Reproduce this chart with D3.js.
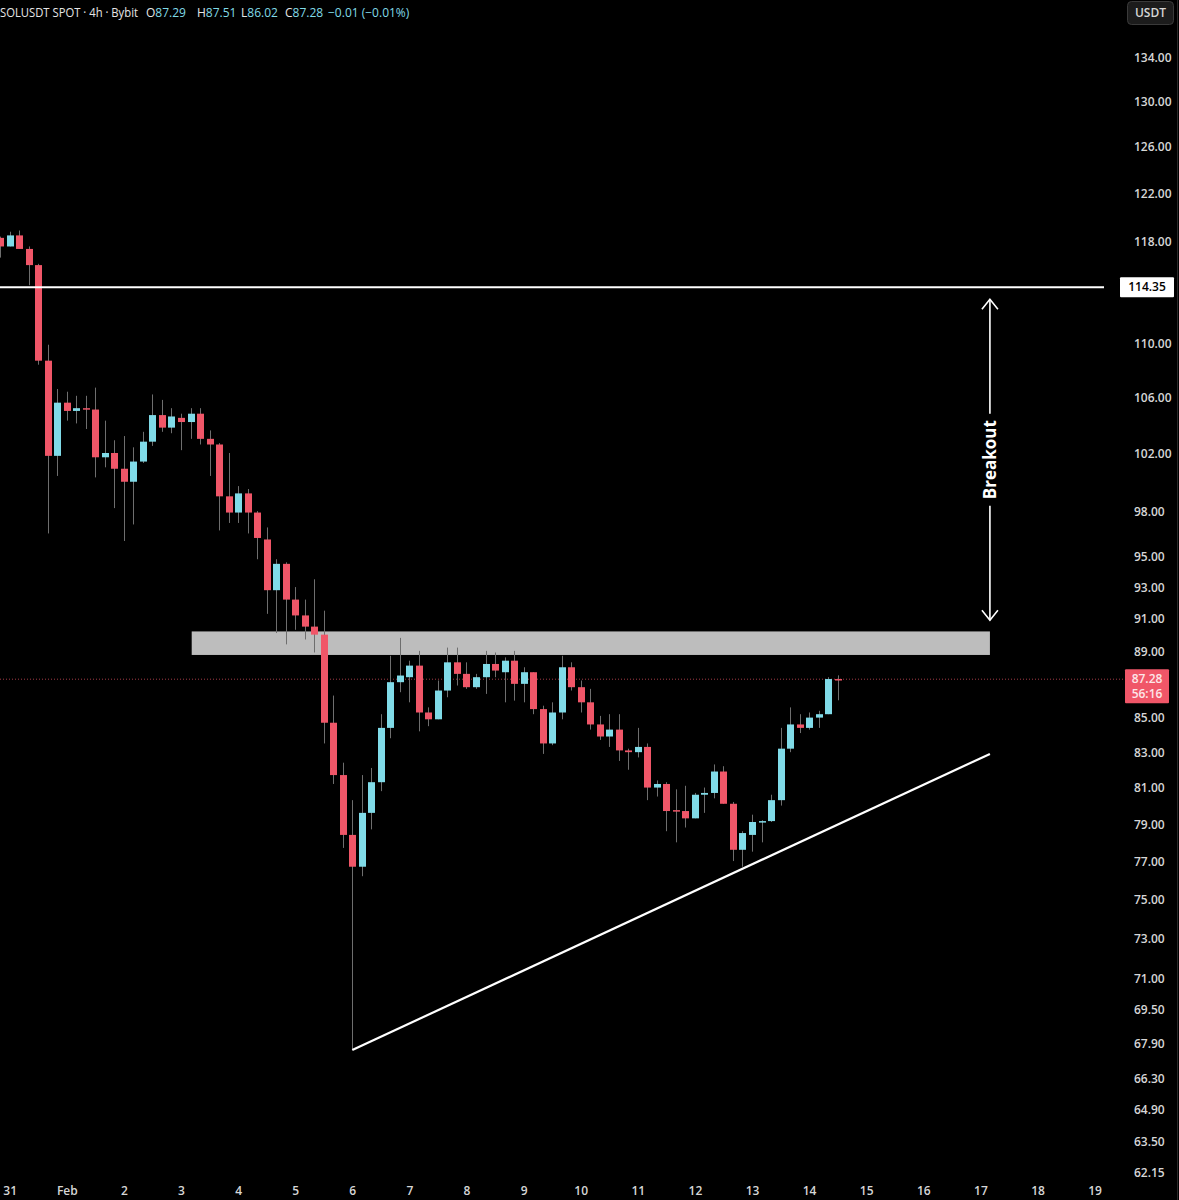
<!DOCTYPE html>
<html>
<head>
<meta charset="utf-8">
<script src="https://cdn.jsdelivr.net/npm/d3@7"></script>
<style>
  html, body { margin: 0; padding: 0; background: #000; }
  svg { display: block; }
  text { font-family: "Open Sans", "Noto Sans", sans-serif; }
</style>
</head>
<body>
<svg id="chart" width="1179" height="1200"></svg>
<script>
// ---------- DATA ----------
const firstCandle = "2026-01-30T20:00:00Z";   // 4h candles
const candleHours = 4;
const opens = [118.3,117.6,118.5,117.4,116.1,108.7,101.8,105.6,105.0,105.2,105.1,101.7,102.0,100.9,100.0,101.4,102.8,104.7,103.8,104.5,104.2,104.8,103.0,102.6,99.0,97.9,99.2,97.9,96.1,92.8,94.5,92.2,91.2,90.5,90.0,84.7,81.7,78.4,76.7,79.6,81.3,84.4,87.1,87.4,88.1,85.3,84.9,86.6,88.3,87.6,86.8,87.4,88.2,87.7,88.4,87.0,87.7,85.5,83.5,85.3,88.0,86.8,85.9,84.6,83.9,84.3,83.1,83.0,83.3,81.0,81.2,79.75,79.7,79.3,80.6,80.7,81.9,80.1,77.6,78.4,79.1,79.15,80.3,83.2,84.6,84.4,85.0,85.2,87.29];
const highs = [118.4,118.8,118.9,117.6,116.2,109.9,106.6,106.4,106.1,106.1,106.7,104.3,102.9,103.2,102.4,103.5,106.2,105.8,105.2,104.8,105.2,105.2,103.6,102.7,102.0,99.7,99.5,98.0,96.9,94.8,94.6,93.0,92.2,93.5,91.5,86.3,82.4,80.3,81.7,82.1,85.2,88.7,89.8,88.4,89.0,85.6,87.2,89.2,89.2,88.3,87.6,89.0,88.9,88.6,89.0,88.0,87.7,85.7,85.9,88.7,88.3,87.2,86.7,85.1,85.2,85.2,83.2,84.4,83.5,81.4,81.3,80.9,81.1,80.7,81.0,82.3,82.2,80.2,78.6,79.5,79.2,80.6,84.4,85.6,85.2,85.3,85.4,87.4,87.51];
const lows = [116.7,117.6,117.4,114.5,108.4,96.5,100.4,104.3,104.1,103.7,100.3,101.0,98.2,96.0,97.1,101.3,102.5,103.5,103.4,102.2,103.0,102.6,100.4,96.7,97.2,97.2,96.5,94.8,91.3,90.1,89.4,90.3,89.7,88.9,83.5,81.2,77.7,67.6,76.2,78.7,80.8,83.8,86.5,85.9,84.2,84.5,84.9,86.2,86.9,86.7,86.7,86.4,87.4,85.9,86.0,85.9,85.2,82.9,83.4,84.9,86.6,85.3,84.3,83.7,83.3,82.5,82.0,82.7,80.3,80.5,78.6,78.0,78.8,79.3,79.6,80.4,80.1,77.0,76.7,77.5,78.0,79.1,80.0,83.0,84.1,84.3,84.4,85.2,86.02];
const closes = [117.6,118.5,117.4,116.1,108.7,101.8,105.6,105.0,105.2,105.1,101.7,102.0,100.9,100.0,101.4,102.8,104.7,103.8,104.6,104.2,104.8,103.0,102.6,99.0,97.9,99.2,97.9,96.2,92.8,94.5,92.2,91.2,90.5,90.0,84.7,81.7,78.4,76.7,79.6,81.3,84.4,87.1,87.5,88.1,85.3,84.9,86.6,88.3,87.6,86.8,87.4,88.2,87.8,88.4,87.0,87.7,85.5,83.5,85.3,88.0,86.8,85.9,84.6,83.9,84.3,83.1,83.0,83.3,81.0,81.2,79.7,79.7,79.3,80.6,80.7,81.9,80.1,77.6,78.5,79.1,79.15,80.3,83.2,84.6,84.4,85.0,85.2,87.29,87.28];

const priceTicks = [134, 130, 126, 122, 118, 110, 106, 102, 98, 95, 93, 91, 89, 85, 83, 81, 79, 77, 75, 73, 71, 69.5, 67.9, 66.3, 64.9, 63.5, 62.15];
const dayTicks = ["2026-01-31","2026-02-01","2026-02-02","2026-02-03","2026-02-04","2026-02-05","2026-02-06","2026-02-07","2026-02-08","2026-02-09","2026-02-10","2026-02-11","2026-02-12","2026-02-13","2026-02-14","2026-02-15","2026-02-16","2026-02-17","2026-02-18","2026-02-19"];

const resistanceLevel = 114.35;
const lastPrice = 87.28;
const countdown = "56:16";
const zoneTop = 90.2, zoneBottom = 88.75;
const zoneStart = "2026-02-03T04:30:00Z", zoneEnd = "2026-02-17T04:00:00Z";
const trendStart = { t: "2026-02-06T00:00:00Z", p: 67.6 };
const trendEnd = { t: "2026-02-17T04:00:00Z", p: 82.9 };
const arrowTime = "2026-02-17T04:00:00Z";
const arrowTop = 113.4, arrowBottom = 90.9;
const headerTitle = "SOLUSDT SPOT · 4h · Bybit";
const headerOHLC = [["O", "87.29"], ["H", "87.51"], ["L", "86.02"], ["C", "87.28"]];
const headerChange = "−0.01 (−0.01%)";

// ---------- SETUP ----------
const W = 1179, H = 1200;
const UP = "#80dbe8", DOWN = "#f05668", WICK = "#6e6e6e", AXIS_TEXT = "#d6d6d6";
const svg = d3.select("#chart");
svg.append("rect").attr("width", W).attr("height", H).attr("fill", "#000");

const x = d3.scaleUtc()
  .domain([new Date("2026-01-31T00:00:00Z"), new Date("2026-02-19T00:00:00Z")])
  .range([9.7, 1094.6]);
const y = d3.scaleLog().domain([62.15, 134]).range([1172, 57]);

const t0 = new Date(firstCandle).getTime();
const candles = opens.map((o, i) => ({
  t: new Date(t0 + i * candleHours * 3600e3),
  o, h: highs[i], l: lows[i], c: closes[i]
}));

// ---------- Zone ----------
svg.append("rect")
  .attr("x", x(new Date(zoneStart)))
  .attr("y", y(zoneTop))
  .attr("width", x(new Date(zoneEnd)) - x(new Date(zoneStart)))
  .attr("height", y(zoneBottom) - y(zoneTop))
  .attr("fill", "#bdbdbd");

// ---------- Current price dotted line ----------
svg.append("line")
  .attr("x1", 0).attr("x2", 1125)
  .attr("y1", y(lastPrice)).attr("y2", y(lastPrice))
  .attr("stroke", "#a33a46").attr("stroke-width", 1)
  .attr("stroke-dasharray", "1,2");

// ---------- Candles ----------
const bw = 7;
const g = svg.append("g");
g.selectAll("line.wick").data(candles).join("line")
  .attr("class", "wick")
  .attr("x1", d => Math.round(x(d.t)) + 0.5).attr("x2", d => Math.round(x(d.t)) + 0.5)
  .attr("y1", d => y(d.h)).attr("y2", d => y(d.l))
  .attr("stroke", WICK).attr("stroke-width", 1);
g.selectAll("rect.body").data(candles).join("rect")
  .attr("class", "body")
  .attr("x", d => Math.round(x(d.t)) + 0.5 - bw / 2)
  .attr("y", d => y(Math.max(d.o, d.c)))
  .attr("width", bw)
  .attr("height", d => Math.max(1.5, Math.abs(y(d.o) - y(d.c))))
  .attr("fill", d => d.c >= d.o ? UP : DOWN);

// ---------- Resistance line ----------
svg.append("line")
  .attr("x1", 0).attr("x2", 1104)
  .attr("y1", y(resistanceLevel)).attr("y2", y(resistanceLevel))
  .attr("stroke", "#fff").attr("stroke-width", 2);

// ---------- Trend line ----------
svg.append("line")
  .attr("x1", x(new Date(trendStart.t))).attr("y1", y(trendStart.p))
  .attr("x2", x(new Date(trendEnd.t))).attr("y2", y(trendEnd.p))
  .attr("stroke", "#fff").attr("stroke-width", 2.2);

// ---------- Breakout arrow ----------
const ax = x(new Date(arrowTime));
const ay1 = y(arrowTop), ay2 = y(arrowBottom);
const amid = (ay1 + ay2) / 2;
const arrow = svg.append("g").attr("stroke", "#fff").attr("stroke-width", 1.6).attr("fill", "none");
arrow.append("line").attr("x1", ax).attr("x2", ax).attr("y1", ay1).attr("y2", amid - 46);
arrow.append("line").attr("x1", ax).attr("x2", ax).attr("y1", amid + 46).attr("y2", ay2);
arrow.append("polyline").attr("points", `${ax - 8},${ay1 + 10} ${ax},${ay1} ${ax + 8},${ay1 + 10}`);
arrow.append("polyline").attr("points", `${ax - 8},${ay2 - 10} ${ax},${ay2} ${ax + 8},${ay2 - 10}`);
svg.append("text")
  .attr("transform", `translate(${ax + 6},${amid}) rotate(-90)`)
  .attr("text-anchor", "middle")
  .attr("fill", "#fff").attr("font-size", 17).attr("font-weight", 700)
  .text("Breakout");

// ---------- Y axis ----------
const yAxis = d3.axisRight(y).tickValues(priceTicks).tickFormat(d => d.toFixed(2)).tickSize(0).tickPadding(0);
const yg = svg.append("g").attr("transform", "translate(1134,0)").call(yAxis);
yg.select(".domain").remove();
yg.selectAll("text").attr("fill", AXIS_TEXT).attr("font-size", 12).attr("font-weight", 600)
  .attr("font-family", "'Open Sans', sans-serif").attr("dy", "0.35em");

// right border
svg.append("line").attr("x1", 1177.5).attr("x2", 1177.5).attr("y1", 0).attr("y2", H)
  .attr("stroke", "#2a2a2a").attr("stroke-width", 1);

// resistance label
svg.append("rect").attr("x", 1120).attr("y", y(resistanceLevel) - 10).attr("width", 54).attr("height", 20)
  .attr("fill", "#fff").attr("rx", 1);
svg.append("text").attr("x", 1147).attr("y", y(resistanceLevel)).attr("dy", "0.35em")
  .attr("text-anchor", "middle").attr("fill", "#000").attr("font-size", 12).attr("font-weight", 600)
  .text(resistanceLevel.toFixed(2));

// last price label
const ly = y(lastPrice);
svg.append("rect").attr("x", 1125).attr("y", ly - 10).attr("width", 44).attr("height", 34)
  .attr("fill", DOWN).attr("rx", 1);
svg.append("text").attr("x", 1147).attr("y", ly).attr("dy", "0.35em")
  .attr("text-anchor", "middle").attr("fill", "#fde6e8").attr("font-size", 12).attr("font-weight", 600)
  .text(lastPrice.toFixed(2));
svg.append("text").attr("x", 1147).attr("y", ly + 15).attr("dy", "0.35em")
  .attr("text-anchor", "middle").attr("fill", "#fde6e8").attr("font-size", 12).attr("font-weight", 600)
  .text(countdown);

// USDT badge
svg.append("rect").attr("x", 1127.5).attr("y", 1.5).attr("width", 46).attr("height", 23).attr("rx", 4)
  .attr("fill", "#1c1c1c").attr("stroke", "#3a3a3a");
svg.append("text").attr("x", 1150.5).attr("y", 13).attr("dy", "0.35em")
  .attr("text-anchor", "middle").attr("fill", AXIS_TEXT).attr("font-size", 12).attr("font-weight", 600)
  .text("USDT");

// ---------- X axis ----------
const xAxis = d3.axisBottom(x)
  .tickValues(dayTicks.map(d => new Date(d + "T00:00:00Z")))
  .tickFormat(d => (d.getUTCDate() === 1 ? "Feb" : String(d.getUTCDate())))
  .tickSize(0).tickPadding(0);
const xg = svg.append("g").attr("transform", "translate(0,1186)").call(xAxis);
xg.select(".domain").remove();
xg.selectAll("text").attr("fill", AXIS_TEXT).attr("font-size", 12).attr("font-weight", 600)
  .attr("font-family", "'Open Sans', sans-serif");

// ---------- Header ----------
const hdrFont = "Roboto, 'Open Sans', sans-serif";
svg.append("text").attr("x", 0).attr("y", 17).attr("font-size", 12)
  .attr("font-family", hdrFont).attr("fill", "#e6e6e6")
  .attr("textLength", 138).attr("lengthAdjust", "spacingAndGlyphs")
  .text(headerTitle);
const ohlcX = [146, 197, 241, 285];
headerOHLC.forEach(([k, v], i) => {
  const t = svg.append("text").attr("x", ohlcX[i]).attr("y", 17).attr("font-size", 12)
    .attr("font-family", hdrFont);
  t.append("tspan").attr("fill", "#e6e6e6").text(k);
  t.append("tspan").attr("fill", UP).text(v);
});
svg.append("text").attr("x", 328).attr("y", 17).attr("font-size", 12)
  .attr("font-family", hdrFont).attr("fill", UP).text(headerChange);
</script>
</body>
</html>
